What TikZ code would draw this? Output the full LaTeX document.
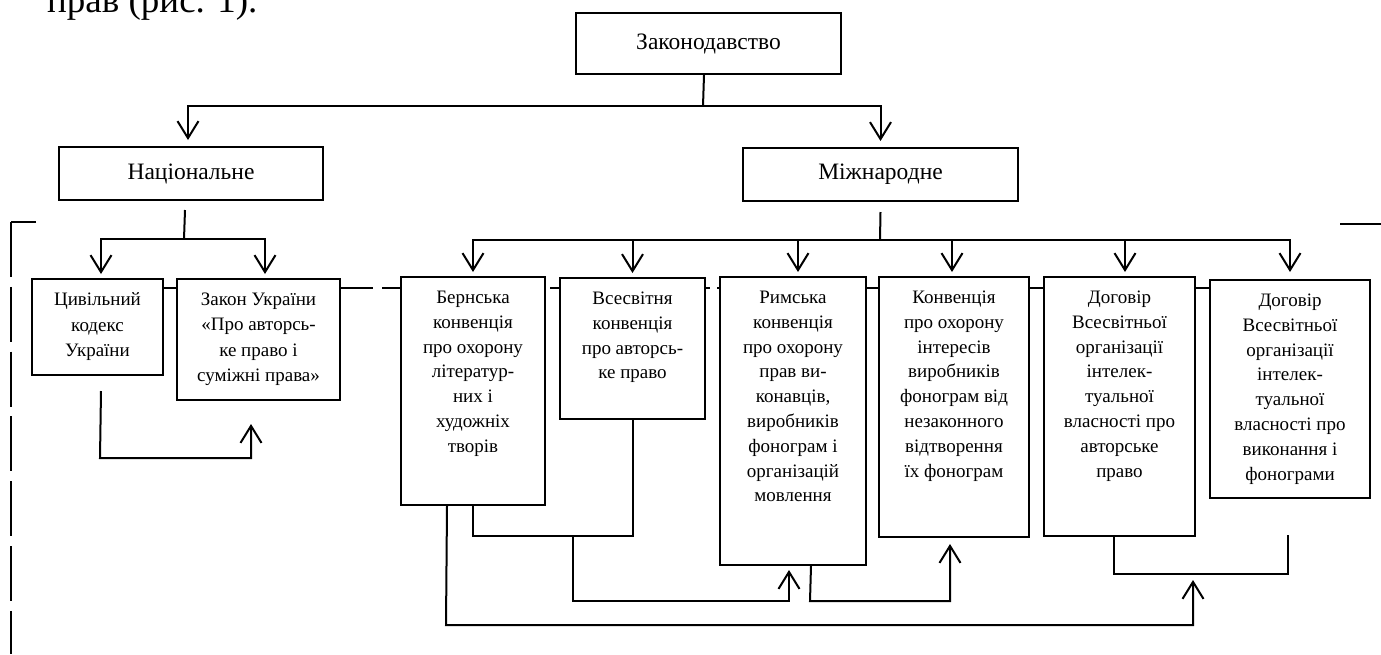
\documentclass[tikz,border=0pt]{standalone}
\usepackage{fontspec}
\setmainfont{Liberation Serif}
\usetikzlibrary{arrows.meta}
\newcommand{\bxtext}[3]{\parbox[c][#2][t]{#1}{\centering\rule{0pt}{26.5pt}#3\par}}
\begin{document}
\begin{tikzpicture}[x=1pt,y=-1pt,
  box/.style={draw, line width=2pt, fill=white, inner sep=0pt, anchor=north west, font=\fontsize{19}{24.8}\selectfont},
  hbox/.style={draw, line width=2pt, fill=white, inner sep=0pt, anchor=north west, font=\fontsize{23.5}{28}\selectfont},
  conn/.style={line width=2pt},
  arr/.style={-{Straight Barb[length=17pt,width=21pt]}},
  framel/.style={line width=1.3pt}]
\useasboundingbox (0,0) rectangle (1381,654);

% frame lines
\draw[framel] (36,222) -- (11,222);
\draw[framel, dash pattern=on 55pt off 9.8pt] (11,222) -- (11,654);
\draw[framel] (1340,224) -- (1381,224);
\draw[framel] (162,288) -- (176,288);
\draw[framel] (339,288) -- (373,288);
\draw[framel] (382,288) -- (400,288);
\draw[framel] (550,288) -- (559,288);
\draw[framel] (704,288) -- (710,288);
\draw[framel] (717,288) -- (719,288);
\draw[framel] (865,288) -- (878,288);
\draw[framel] (1028,288) -- (1043,288);
\draw[framel] (1194,288) -- (1209,288);

% intro text
\node[anchor=base west, inner sep=0pt, font=\fontsize{37}{44}\selectfont] (intro) at (47,12) {прав (рис. 1).};

% headings
\node[hbox, minimum width=265pt, minimum height=61pt] (zak) at (575,12) {Законодавство};
\node[hbox, minimum width=264pt, minimum height=53pt] (nat) at (58,146) {Національне};
\node[hbox, minimum width=275pt, minimum height=53pt] (mij) at (742,147) {Міжнародне};

% boxes
\node[box, font=\fontsize{19}{25.6}\selectfont] (tsiv) at (31,278) {\bxtext{131pt}{96pt}{Цивільний\\кодекс\\України}};
\node[box, font=\fontsize{19}{25.4}\selectfont] (zakon) at (176,278) {\bxtext{163pt}{121pt}{Закон України\\«Про авторсь-\\ке право і\\суміжні права»}};
\node[box] (bern) at (400,276) {\bxtext{144pt}{228pt}{Бернська\\конвенція\\про охорону\\літератур-\\них і\\художніх\\творів}};
\node[box] (vses) at (559,277) {\bxtext{145pt}{141pt}{Всесвітня\\конвенція\\про авторсь-\\ке право}};
\node[box] (rym) at (719,276) {\bxtext{146pt}{288pt}{Римська\\конвенція\\про охорону\\прав ви-\\конавців,\\виробників\\фонограм і\\організацій\\мовлення}};
\node[box] (konv) at (878,276) {\bxtext{150pt}{260pt}{Конвенція\\про охорону\\інтересів\\виробників\\фонограм від\\незаконного\\відтворення\\їх фонограм}};
\node[box] (dog1) at (1043,276) {\bxtext{151pt}{259pt}{Договір\\Всесвітньої\\організації\\інтелек-\\туальної\\власності про\\авторське\\право}};
\node[box] (dog2) at (1209,279) {\bxtext{160pt}{218pt}{Договір\\Всесвітньої\\організації\\інтелек-\\туальної\\власності про\\виконання і\\фонограми}};

% top tree
\coordinate (j0) at (703,106);
\draw[conn] ([xshift=-4.5pt]zak.south) -- (j0);
\draw[conn,arr,shorten >=6pt] (j0) -| ([xshift=-3pt]nat.north);
\draw[conn,arr,shorten >=6pt] (j0) -| (mij.north);

% national subtree
\coordinate (j1) at (184,239);
\draw[conn] ([xshift=-6pt,yshift=-9pt]nat.south) -- (j1);
\draw[conn,arr,shorten >=4pt] (j1) -| ([xshift=3.5pt]tsiv.north);
\draw[conn,arr,shorten >=4pt] (j1) -| ([xshift=6.5pt]zakon.north);

% international subtree
\coordinate (j2) at (880,240);
\draw[conn] ([yshift=-10pt]mij.south) -- (j2);
\draw[conn,arr,shorten >=4pt] (j2) -| (bern.north);
\draw[conn,arr,shorten >=4pt] (j2) -| (vses.north);
\draw[conn,arr,shorten >=4pt] (j2) -| ([xshift=5pt]rym.north);
\draw[conn,arr,shorten >=4pt] (j2) -| ([xshift=-2pt]konv.north);
\draw[conn,arr,shorten >=4pt] (j2) -| ([xshift=5.5pt]dog1.north);
\draw[conn,arr,shorten >=7pt] (j2) -| (dog2.north);

% bottom connectors
\coordinate (j3) at (100,458);
\draw[conn,arr,shorten >=23pt] ([xshift=3.5pt,yshift=-15pt]tsiv.south) -- (j3) -| ([xshift=-7.5pt]zakon.south);

\coordinate (j4) at (573,536);
\draw[conn] (vses.south) |- (j4) -| (bern.south);
\coordinate (j5) at (573,601);
\draw[conn,arr,shorten >=4pt] (j4) -- (j5) -| ([xshift=-4pt]rym.south);

\coordinate (j8) at (1193,574);
\coordinate (j9) at (1288,535);
\draw[conn] ([xshift=-5.5pt]dog1.south) |- (j8) -| (j9);

\coordinate (j6) at (446,625);
\draw[conn,arr,shorten >=6pt] ([xshift=-26pt]bern.south) -- (j6) -| (j8);

\coordinate (j7) at (810,601);
\draw[conn,arr,shorten >=6pt] ([xshift=18pt]rym.south) -- (j7) -| ([xshift=-4pt]konv.south);
\end{tikzpicture}
\end{document}
